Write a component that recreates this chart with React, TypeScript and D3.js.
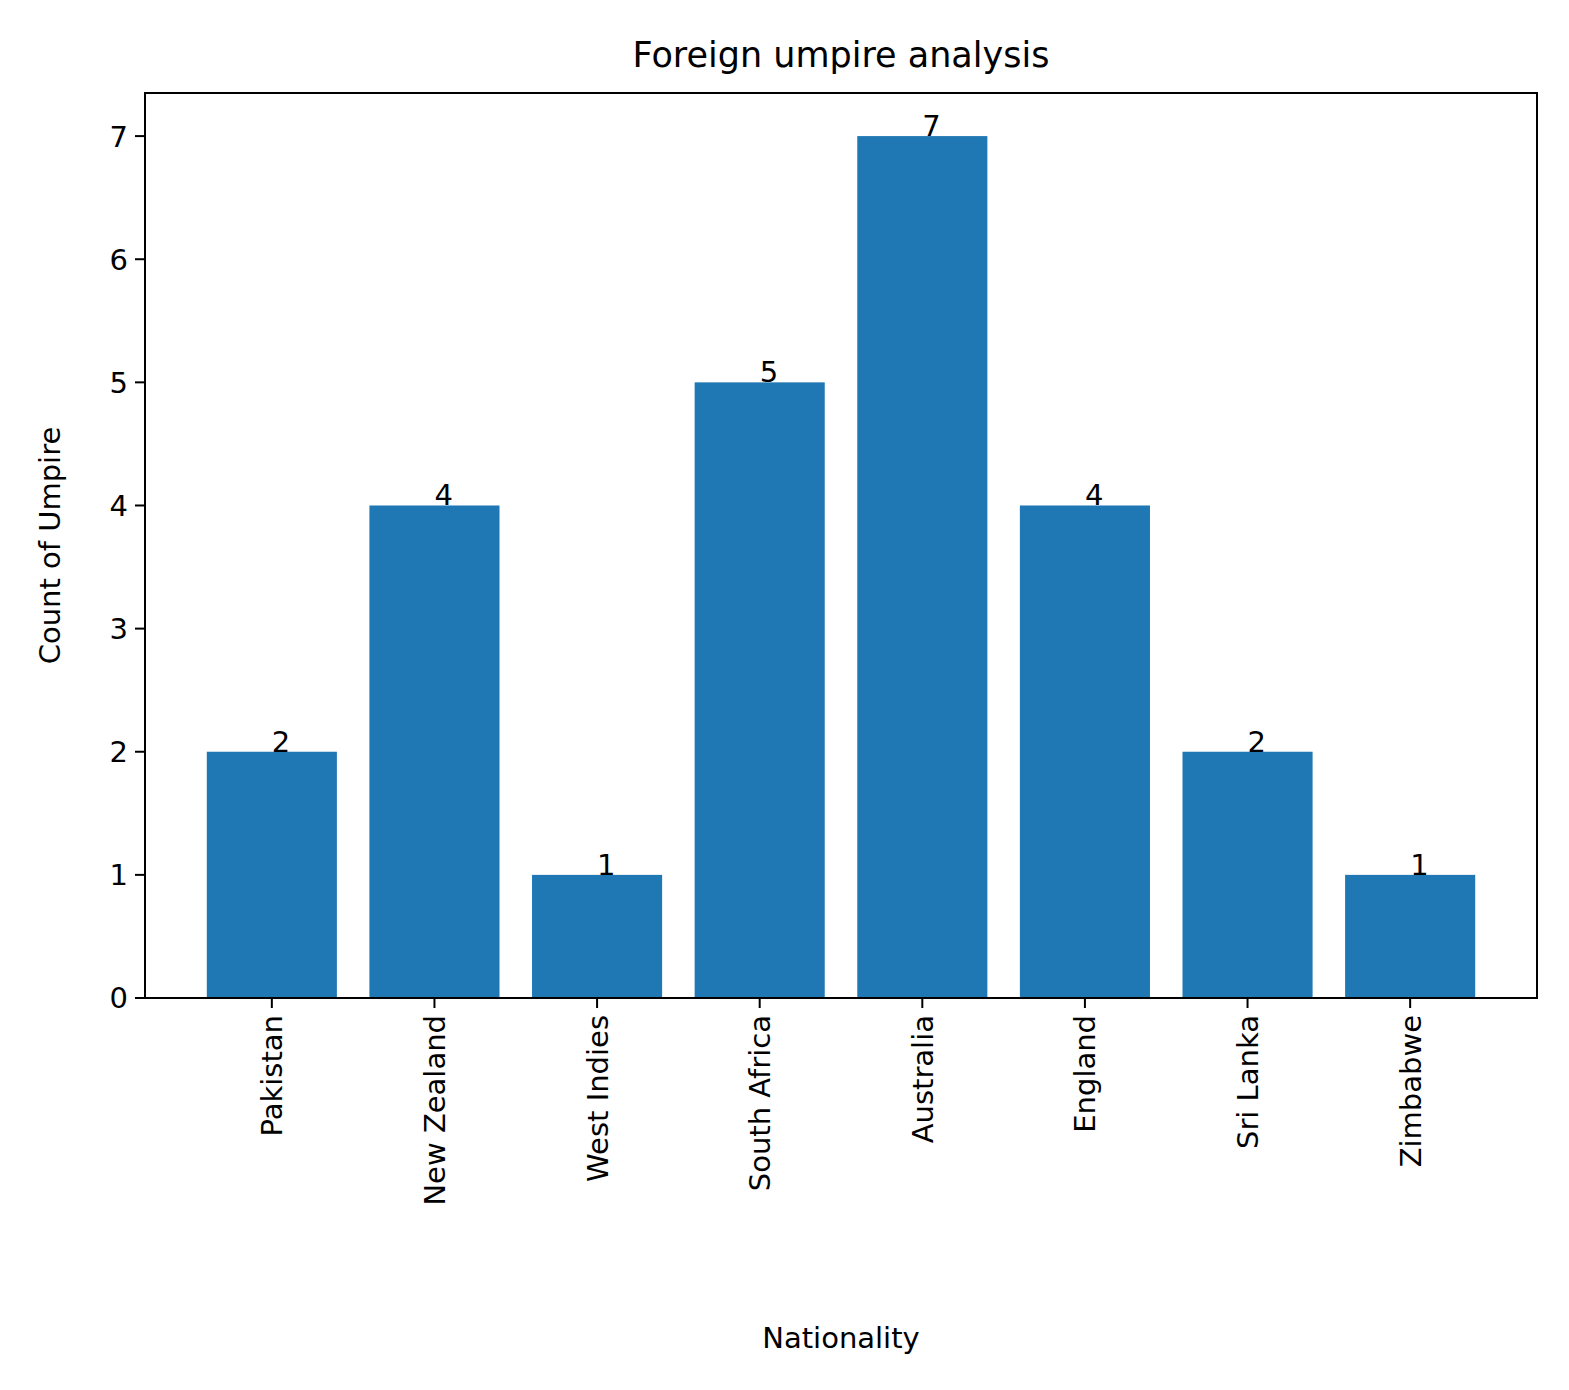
import React from "react";
import * as d3 from "d3";

const categories = ["Pakistan", "New Zealand", "West Indies", "South Africa", "Australia", "England", "Sri Lanka", "Zimbabwe"];
const counts = [2, 4, 1, 5, 7, 4, 2, 1];
const yTicks = [0, 1, 2, 3, 4, 5, 6, 7];

export default function App() {
  const W = 1569, H = 1390;
  const L = 145, R = 1537, T = 93, B = 998;
  const x = d3.scaleLinear().domain([-0.78, 7.78]).range([L, R]);
  const y = d3.scaleLinear().domain([0, 7.35]).range([B, T]);
  const bw = x(0.8) - x(0);
  const font = "DejaVu Sans";
  return (
    <svg width={W} height={H} style={{ position: "absolute", left: 0, top: 0, background: "#fff" }} fontFamily={font}>
      <rect width={W} height={H} fill="#fff" />
      {counts.map((v, i) => (
        <rect key={i} x={x(i) - bw / 2} y={y(v)} width={bw} height={y(0) - y(v)} fill="#1f77b4" />
      ))}
      {counts.map((v, i) => (
        <text key={"l" + i} x={x(i)} y={y(v)} fontSize={29} fill="#000">{v}</text>
      ))}
      <rect x={L} y={T} width={R - L} height={B - T} fill="none" stroke="#000" strokeWidth={2} />
      {yTicks.map((t) => (
        <g key={t}>
          <line x1={L - 10} x2={L} y1={y(t)} y2={y(t)} stroke="#000" strokeWidth={2} />
          <text x={L - 17} y={y(t)} dy="0.36em" textAnchor="end" fontSize={29}>{t}</text>
        </g>
      ))}
      {categories.map((c, i) => (
        <g key={c}>
          <line x1={x(i)} x2={x(i)} y1={B} y2={B + 10} stroke="#000" strokeWidth={2} />
          <text transform={`translate(${x(i)},${B + 17}) rotate(-90)`} textAnchor="end" dy="0.36em" fontSize={29}>{c}</text>
        </g>
      ))}
      <text x={(L + R) / 2} y={1348} textAnchor="middle" fontSize={29}>Nationality</text>
      <text transform={`translate(60,${(T + B) / 2}) rotate(-90)`} textAnchor="middle" fontSize={29}>Count of Umpire</text>
      <text x={(L + R) / 2} y={67} textAnchor="middle" fontSize={35}>Foreign umpire analysis</text>
    </svg>
  );
}
